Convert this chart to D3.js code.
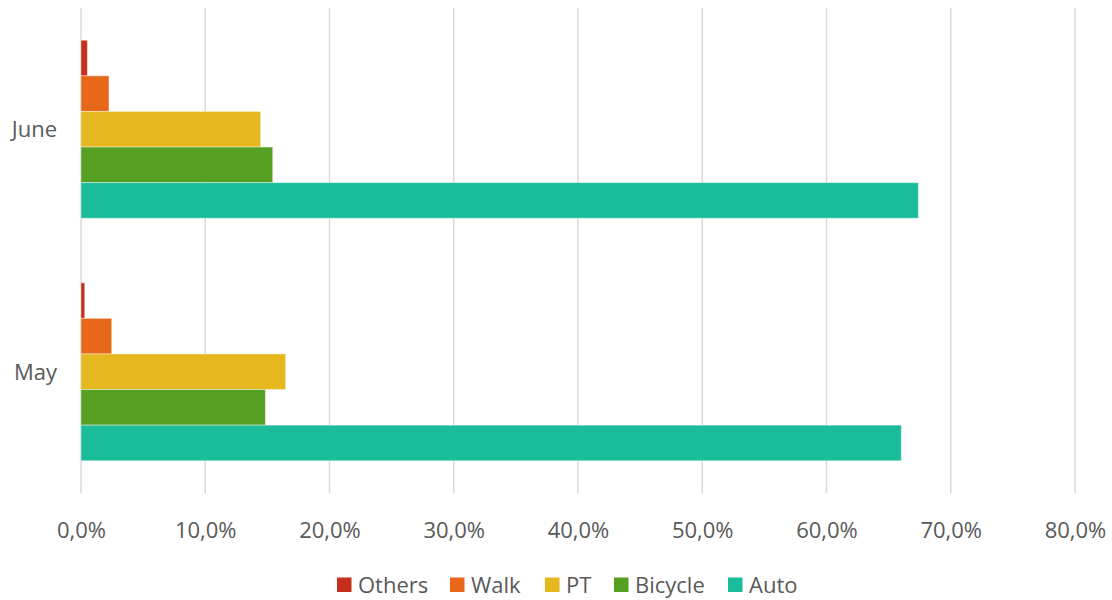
<!DOCTYPE html>
<html><head><meta charset="utf-8">
<script src="https://cdn.jsdelivr.net/npm/d3@7"></script>
<style>body{margin:0;background:#fff}svg{display:block}text{font-family:"Open Sans","Noto Sans",sans-serif;fill:#595959}</style>
</head><body><div id="chart"></div>
<script>
const categories = ["June", "May"];
const seriesNames = ["Others", "Walk", "PT", "Bicycle", "Auto"];
const seriesColors = ["#C4301C", "#E8681A", "#E5B81F", "#55A023", "#1BBC9B"];
const othersVals = [0.0051, 0.0030];
const walkVals = [0.0225, 0.0247];
const ptVals = [0.1446, 0.1647];
const bicycleVals = [0.1543, 0.1484];
const autoVals = [0.6739, 0.6602];
const tickValues = [0, 0.1, 0.2, 0.3, 0.4, 0.5, 0.6, 0.7, 0.8];

(function () {
const seriesVals = [othersVals, walkVals, ptVals, bicycleVals, autoVals];
const W = 1112, H = 600;
const mLeft = 81, mRight = 1075, mTop = 8, mBottom = 493;
const svg = d3.select("#chart").append("svg").attr("width", W).attr("height", H);
const loc = d3.formatLocale({decimal: ",", thousands: ".", grouping: [3], currency: ["", "€"]});
const fmt = loc.format(".1%");

const x = d3.scaleLinear().domain([0, 0.8]).range([mLeft, mRight]);
const y = d3.scaleBand().domain(categories).range([mTop, mBottom]).paddingInner(0.266).paddingOuter(0.133);
const ys = d3.scaleBand().domain(seriesNames).range([0, y.bandwidth()]);

svg.append("g").selectAll("line").data(tickValues).join("line")
  .attr("x1", d => x(d)).attr("x2", d => x(d)).attr("y1", mTop).attr("y2", mBottom)
  .attr("stroke", "#d9d9d9").attr("stroke-width", 1.5);

const xa = svg.append("g").attr("transform", `translate(0,${mBottom})`)
  .call(d3.axisBottom(x).tickValues(tickValues).tickFormat(fmt).tickSize(0));
xa.select(".domain").remove();
xa.selectAll("text").attr("y", 45).attr("dy", 0).style("font-size", "22px").attr("fill", "#595959");

const ya = svg.append("g").attr("transform", `translate(${mLeft},0)`)
  .call(d3.axisLeft(y).tickSize(0).tickPadding(24));
ya.select(".domain").remove();
ya.selectAll("text").attr("dy", "0.36em").style("font-size", "22px").attr("fill", "#595959");

seriesNames.forEach((s, i) => {
  svg.append("g").selectAll("rect").data(categories).join("rect")
    .attr("x", x(0))
    .attr("y", c => y(c) + ys(s))
    .attr("width", (c, j) => x(seriesVals[i][j]) - x(0))
    .attr("height", ys.bandwidth())
    .attr("fill", seriesColors[i])
    .attr("stroke", "#ffffff").attr("stroke-opacity", 0.4).attr("stroke-width", 1);
});

const legendX = [337, 450, 545, 614, 728];
const lg = svg.append("g");
seriesNames.forEach((s, i) => {
  lg.append("rect").attr("x", legendX[i]).attr("y", 577.5).attr("width", 14.5).attr("height", 14.5).attr("fill", seriesColors[i]);
  lg.append("text").attr("x", legendX[i] + 21).attr("y", 593).style("font-size", "22px").text(s);
});
})();
</script></body></html>
